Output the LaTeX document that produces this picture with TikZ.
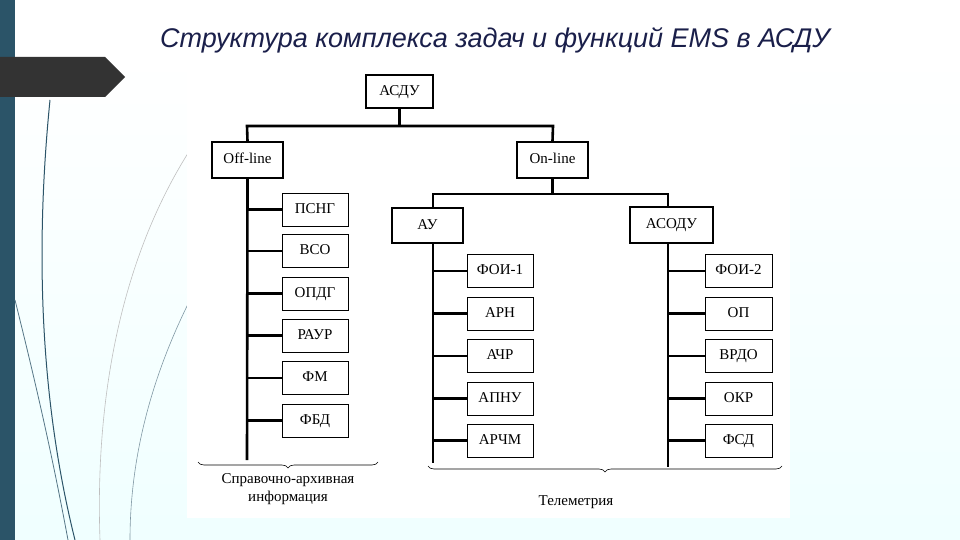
\documentclass[tikz,border=0pt]{standalone}
\usepackage{fontspec}
\setmainfont{Liberation Serif}
\newfontfamily\titlefont{Liberation Sans}
\usetikzlibrary{decorations.pathreplacing}
\definecolor{strip}{HTML}{2B5468}
\definecolor{titlec}{HTML}{1A1F4A}
\begin{document}
\begin{tikzpicture}[x=1pt,y=-1pt,
  bx/.style={draw,line width=0.8pt,fill=white,inner sep=0pt,text height=10pt,text depth=2.5pt,font=\fontsize{15}{16}\selectfont},
  tbx/.style={draw,line width=2.2pt,fill=white,inner sep=0pt,text height=10pt,text depth=2.5pt,font=\fontsize{15}{16}\selectfont},
  trunk/.style={line width=2.6pt},
  br/.style={decorate,decoration={brace,mirror,amplitude=6pt},line width=0.6pt}]
\useasboundingbox (0,0) rectangle (960,540);
\fill[white] (0,0) rectangle (960,540);
\shade[top color=white,bottom color=cyan!6] (0,56) rectangle (960,540);
\fill[strip] (0,0) rectangle (15,540);
\fill[black!80] (0,57) -- (105,57) -- (125,77) -- (105,97) -- (0,97) -- cycle;
\draw[strip,line width=1pt] (50,100) .. controls (35,250) and (40,400) .. (75,540);
\draw[strip!80,line width=0.8pt] (15,300) .. controls (40,400) and (55,470) .. (68,540);
\draw[black!25,line width=0.6pt] (190,150) .. controls (120,260) and (95,400) .. (100,540);
\draw[strip!60,line width=0.6pt] (190,300) .. controls (150,380) and (130,460) .. (130,540);
\node[font=\titlefont\itshape\fontsize{27}{30}\selectfont,text=titlec] (title) at (495,40) {Структура комплекса задач и функций EMS в АСДУ};
\fill[white] (187,65) rectangle (790,518);
% nodes
\node[tbx,minimum width=67,minimum height=33] (asdu) at (399.5,91.5) {АСДУ};
\node[tbx,minimum width=71,minimum height=36] (off) at (247.5,160) {Off-line};
\node[tbx,minimum width=71,minimum height=36] (on) at (552.5,160) {On-line};
\node[tbx,minimum width=71,minimum height=35] (au) at (427.5,225.5) {АУ};
\node[tbx,minimum width=83,minimum height=36] (asodu) at (671.5,225) {АСОДУ};
\foreach \n/\t/\y in {l1/ПСНГ/209.5,l2/ВСО/251,l3/ОПДГ/293.5,l4/РАУР/335.5,l5/ФМ/378,l6/ФБД/420.5}
  \node[bx,minimum width=66,minimum height=33] (\n) at (315,\y) {\t};
\foreach \n/\t/\y in {m1/ФОИ-1/271,m2/АРН/313.5,m3/АЧР/356,m4/АПНУ/398.5,m5/АРЧМ/440.5}
  \node[bx,minimum width=66,minimum height=33] (\n) at (500,\y) {\t};
\foreach \n/\t/\y in {r1/ФОИ-2/271,r2/ОП/313.5,r3/ВРДО/356,r4/ОКР/398.5,r5/ФСД/440.5}
  \node[bx,minimum width=67,minimum height=33] (\n) at (738.5,\y) {\t};
% connectors
\coordinate (hl) at (247,126); \coordinate (hr) at (553,126);
\draw[trunk] (asdu.south) -- (399.5,126);
\draw[trunk] (off.north) -- (hl) -- (hr) -- (on.north);
\coordinate (ol) at (433,194); \coordinate (or) at (668,194);
\draw[trunk] (on.south) -- (552.5,194);
\draw[trunk] (au.north -| ol) -- (ol) -- (or) -- (asodu.north -| or);
\coordinate (lend) at (247,460);
\draw[trunk] (off.south) -- (lend);
\foreach \n in {l1,l2,l3,l4,l5,l6} \draw[trunk] (\n.west -| lend) -- (\n.west);
\coordinate (mend) at (433,463);
\draw[trunk] (au.south -| mend) -- (mend);
\foreach \n in {m1,m2,m3,m4,m5} \draw[trunk] (\n.west -| mend) -- (\n.west);
\coordinate (rend) at (668,467);
\draw[trunk] (asodu.south -| rend) -- (rend);
\foreach \n in {r1,r2,r3,r4,r5} \draw[trunk] (\n.west -| rend) -- (\n.west);
% braces
\coordinate (b1a) at (198,462); \coordinate (b1b) at (378,462);
\draw[br] (b1a) -- (b1b);
\node[font=\fontsize{15}{18}\selectfont,align=center] (lab1) at (288,489) {Справочно-архивная\\информация};
\coordinate (b2a) at (428,466); \coordinate (b2b) at (782,466);
\draw[br] (b2a) -- (b2b);
\node[font=\fontsize{15}{16}\selectfont] (lab2) at (576,502) {Телеметрия};
\end{tikzpicture}
\end{document}
